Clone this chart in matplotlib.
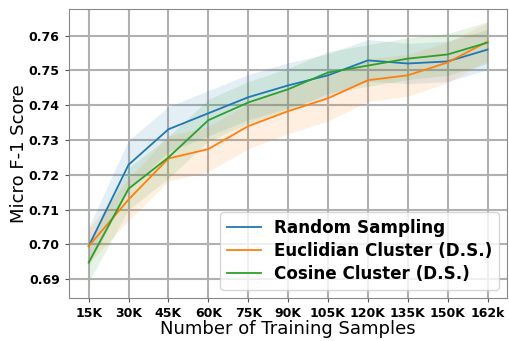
import matplotlib.pyplot as plt
import numpy as np

# tamanhos de amostra de treino
samples = ["15K", "30K", "45K", "60K", "75K", "90K", "105K", "120K", "135K", "150K", "162k"]

random_f1 = [0.6995, 0.7229, 0.7331, 0.7377, 0.7423, 0.7457, 0.7486, 0.7529, 0.7520, 0.7526, 0.7560]
random_std = [0.0055, 0.0070, 0.0065, 0.0065, 0.0065, 0.0065, 0.0062, 0.0060, 0.0058, 0.0058, 0.0058]

euclid_f1 = [0.6995, 0.7129, 0.7247, 0.7274, 0.7340, 0.7383, 0.7420, 0.7472, 0.7486, 0.7523, 0.7583]
euclid_std = [0.0050, 0.0060, 0.0065, 0.0065, 0.0065, 0.0065, 0.0065, 0.0062, 0.0060, 0.0058, 0.0055]

cosine_f1 = [0.6948, 0.7160, 0.7250, 0.7357, 0.7408, 0.7446, 0.7494, 0.7514, 0.7534, 0.7546, 0.7580]
cosine_std = [0.0055, 0.0060, 0.0060, 0.0060, 0.0060, 0.0060, 0.0060, 0.0060, 0.0060, 0.0060, 0.0060]

series = [
    ("Random Sampling", random_f1, random_std, "tab:blue"),
    ("Euclidian Cluster (D.S.)", euclid_f1, euclid_std, "tab:orange"),
    ("Cosine Cluster (D.S.)", cosine_f1, cosine_std, "tab:green"),
]

x = np.arange(len(samples))
fig, ax = plt.subplots(figsize=(5.09, 3.41), dpi=100)

for nome, media, desvio, cor in series:
    media = np.array(media)
    desvio = np.array(desvio)
    ax.plot(x, media, color=cor, linewidth=1.3, label=nome)
    ax.fill_between(x, media - desvio, media + desvio, color=cor, alpha=0.12, linewidth=0)

ax.set_xlim(-0.5, 10.5)
ax.set_ylim(0.6845, 0.7678)
ax.set_xticks(x)
ax.set_xticklabels(samples)
ax.set_yticks([0.69, 0.70, 0.71, 0.72, 0.73, 0.74, 0.75, 0.76])
ax.set_yticklabels(["0.69", "0.70", "0.71", "0.72", "0.73", "0.74", "0.75", "0.76"])
for lab in ax.get_xticklabels() + ax.get_yticklabels():
    lab.set_fontweight("bold")
    lab.set_fontsize(9)
ax.tick_params(colors="#555555", labelcolor="black", length=3)

ax.grid(True, color="#b0b0b0", linewidth=1.5)
ax.set_axisbelow(True)
for s in ax.spines.values():
    s.set_color("#888888")

ax.set_xlabel("Number of Training Samples", fontsize=13, labelpad=0)
ax.set_ylabel("Micro F-1 Score", fontsize=13)
ax.yaxis.set_label_coords(-0.092, 0.5)

ax.legend(loc="lower right", prop={"weight": "bold", "size": 12.1},
          handlelength=2.0, labelspacing=0.3)

plt.subplots_adjust(left=0.135, right=0.997, top=0.975, bottom=0.125)
plt.savefig("out.png")
